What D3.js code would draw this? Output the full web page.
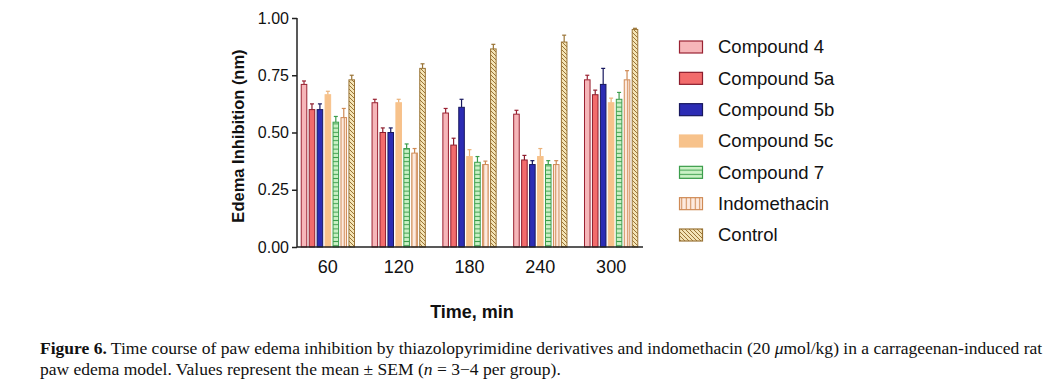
<!DOCTYPE html>
<html><head><meta charset="utf-8">
<script src="https://cdn.jsdelivr.net/npm/d3@7"></script>
<style>body{margin:0;background:#fff}svg{display:block}</style>
</head><body>
<script>
const times = ["60", "120", "180", "240", "300"];
const seriesNames = ["Compound 4", "Compound 5a", "Compound 5b", "Compound 5c", "Compound 7", "Indomethacin", "Control"];
const compound4   = [0.71, 0.63, 0.585, 0.58, 0.73];
const compound5a  = [0.60, 0.50, 0.445, 0.38, 0.665];
const compound5b  = [0.60, 0.50, 0.61, 0.36, 0.71];
const compound5c  = [0.665, 0.63, 0.395, 0.395, 0.63];
const compound7   = [0.545, 0.43, 0.37, 0.36, 0.645];
const indomethacin= [0.565, 0.41, 0.36, 0.36, 0.73];
const control     = [0.73, 0.78, 0.865, 0.895, 0.95];
const err4  = [0.015, 0.015, 0.02, 0.017, 0.02];
const err5a = [0.025, 0.02, 0.03, 0.02, 0.02];
const err5b = [0.025, 0.02, 0.035, 0.017, 0.07];
const err5c = [0.015, 0.015, 0.03, 0.035, 0.02];
const err7  = [0.025, 0.02, 0.025, 0.017, 0.03];
const errIn = [0.04, 0.02, 0.015, 0.017, 0.04];
const errCt = [0.02, 0.02, 0.02, 0.03, 0.005];
const yTicks = [0, 0.25, 0.5, 0.75, 1.0];

const values = [compound4, compound5a, compound5b, compound5c, compound7, indomethacin, control];
const errors = [err4, err5a, err5b, err5c, err7, errIn, errCt];

const styles = [
  {fill:"#f6b6b9", stroke:"#9a2232"},
  {fill:"#f26c6c", stroke:"#8c1c2c"},
  {fill:"#2c2cb4", stroke:"#18185e"},
  {fill:"#f7c28b", stroke:"#f7c28b", err:"#eab27a"},
  {fill:"url(#pHoriz)", stroke:"#3c9e4c"},
  {fill:"url(#pVert)", stroke:"#cf8a55"},
  {fill:"url(#pDiag)", stroke:"#9a7436"}
];

const W = 1061, H = 381;
const svg = d3.select("body").append("svg").attr("width", W).attr("height", H);
svg.append("rect").attr("width", W).attr("height", H).attr("fill", "#fff");

const defs = svg.append("defs");
let p = defs.append("pattern").attr("id","pHoriz").attr("patternUnits","userSpaceOnUse").attr("width",6).attr("height",4.2);
p.append("rect").attr("width",6).attr("height",4.2).attr("fill","#cbf2c6");
p.append("line").attr("x1",0).attr("x2",6).attr("y1",2.1).attr("y2",2.1).attr("stroke","#3c9e4c").attr("stroke-width",1);
p = defs.append("pattern").attr("id","pVert").attr("patternUnits","userSpaceOnUse").attr("width",4.5).attr("height",6);
p.append("rect").attr("width",4.5).attr("height",6).attr("fill","#fdeadf");
p.append("line").attr("x1",2.25).attr("x2",2.25).attr("y1",0).attr("y2",6).attr("stroke","#cf8a55").attr("stroke-width",1);
p = defs.append("pattern").attr("id","pDiag").attr("patternUnits","userSpaceOnUse").attr("width",4).attr("height",4);
p.append("rect").attr("width",4).attr("height",4).attr("fill","#f4e4b6");
p.append("path").attr("d","M0,0 L4,4 M-1,3 L1,5 M3,-1 L5,1").attr("stroke","#9a7436").attr("stroke-width",1);

const y = d3.scaleLinear().domain([0, 1]).range([247, 18]);
const x0 = d3.scaleBand().domain(times).range([296, 643]).paddingInner(0.214).paddingOuter(0.057);
const x1 = d3.scaleBand().domain(seriesNames).range([0, x0.bandwidth()]).paddingInner(0.3).paddingOuter(0.15);

// bars
seriesNames.forEach((s, si) => {
  const st = styles[si];
  const g = svg.append("g");
  const data = times.map((t, i) => ({t, v: values[si][i], e: errors[si][i]}));
  const eg = g.selectAll("g.err").data(data).join("g");
  const ec = st.err || st.stroke;
  eg.append("line")
    .attr("x1", d => x0(d.t) + x1(s) + x1.bandwidth()/2)
    .attr("x2", d => x0(d.t) + x1(s) + x1.bandwidth()/2)
    .attr("y1", d => y(d.v)).attr("y2", d => y(d.v + d.e))
    .attr("stroke", ec).attr("stroke-width", 1.2);
  eg.append("line")
    .attr("x1", d => x0(d.t) + x1(s) + x1.bandwidth()/2 - 2)
    .attr("x2", d => x0(d.t) + x1(s) + x1.bandwidth()/2 + 2)
    .attr("y1", d => y(d.v + d.e)).attr("y2", d => y(d.v + d.e))
    .attr("stroke", ec).attr("stroke-width", 1.2);
  g.selectAll("rect").data(data).join("rect")
    .attr("x", d => x0(d.t) + x1(s))
    .attr("y", d => y(d.v))
    .attr("width", x1.bandwidth())
    .attr("height", d => y(0) - y(d.v))
    .attr("fill", st.fill)
    .attr("stroke", st.stroke)
    .attr("stroke-width", 1);
});

// y axis
const yAxis = svg.append("g").attr("transform", "translate(297,0)")
  .call(d3.axisLeft(y).tickValues(yTicks).tickFormat(d3.format(".2f")).tickSize(5).tickPadding(3));
yAxis.select(".domain").attr("stroke", "#222").attr("stroke-width", 1.5).attr("d", "M0,18V247");
yAxis.selectAll(".tick line").attr("stroke", "#222").attr("stroke-width", 1.5);
yAxis.selectAll(".tick text").attr("font-family", "Liberation Sans, Arial, sans-serif").attr("font-size", 16).attr("fill", "#111");

// x axis
const xAxis = svg.append("g").attr("transform", "translate(0,247)")
  .call(d3.axisBottom(x0).tickSize(0).tickPadding(13));
xAxis.select(".domain").attr("stroke", "#222").attr("stroke-width", 1.5).attr("d", "M297,0H643");
xAxis.selectAll(".tick text").attr("font-family", "Liberation Sans, Arial, sans-serif").attr("font-size", 18).attr("fill", "#111");

// axis titles
svg.append("text").attr("transform", "translate(244,136) rotate(-90)")
  .attr("text-anchor", "middle").attr("font-family", "Liberation Sans, Arial, sans-serif")
  .attr("font-weight", "bold").attr("font-size", 16.5).attr("fill", "#111")
  .text("Edema Inhibition (nm)");
svg.append("text").attr("x", 472).attr("y", 318)
  .attr("text-anchor", "middle").attr("font-family", "Liberation Sans, Arial, sans-serif")
  .attr("font-weight", "bold").attr("font-size", 18).attr("fill", "#111")
  .text("Time, min");

// legend
const ly = d3.scalePoint().domain(seriesNames).range([47, 235]);
const lg = svg.append("g");
seriesNames.forEach((s, si) => {
  const st = styles[si];
  lg.append("rect").attr("x", 679.5).attr("y", ly(s) - 6).attr("width", 23).attr("height", 12)
    .attr("fill", st.fill).attr("stroke", st.stroke).attr("stroke-width", 1.2);
  lg.append("text").attr("x", 718).attr("y", ly(s)).attr("dy", "0.35em")
    .attr("font-family", "Liberation Sans, Arial, sans-serif").attr("font-size", 18.5).attr("fill", "#111")
    .text(s);
});

// caption
const cap = svg.append("g").attr("font-family", "Liberation Serif, Times New Roman, serif").attr("fill", "#111");
const l1 = cap.append("text").attr("x", 40).attr("y", 354).attr("font-size", 16);
l1.append("tspan").attr("font-weight", "bold").text("Figure 6.");
l1.append("tspan").text(" Time course of paw edema inhibition by thiazolopyrimidine derivatives and indomethacin (20 ");
l1.append("tspan").attr("font-style", "italic").text("μ");
l1.append("tspan").text("mol/kg) in a carrageenan-induced rat");
const l2 = cap.append("text").attr("x", 40).attr("y", 375).attr("font-size", 16);
l2.append("tspan").text("paw edema model. Values represent the mean ± SEM (");
l2.append("tspan").attr("font-style", "italic").text("n");
l2.append("tspan").text(" = 3−4 per group).");
const L = l1.node().getComputedTextLength();
const fs = 16 * 1003 / L;
l1.attr("font-size", fs); l2.attr("font-size", fs);
</script>
</body></html>
